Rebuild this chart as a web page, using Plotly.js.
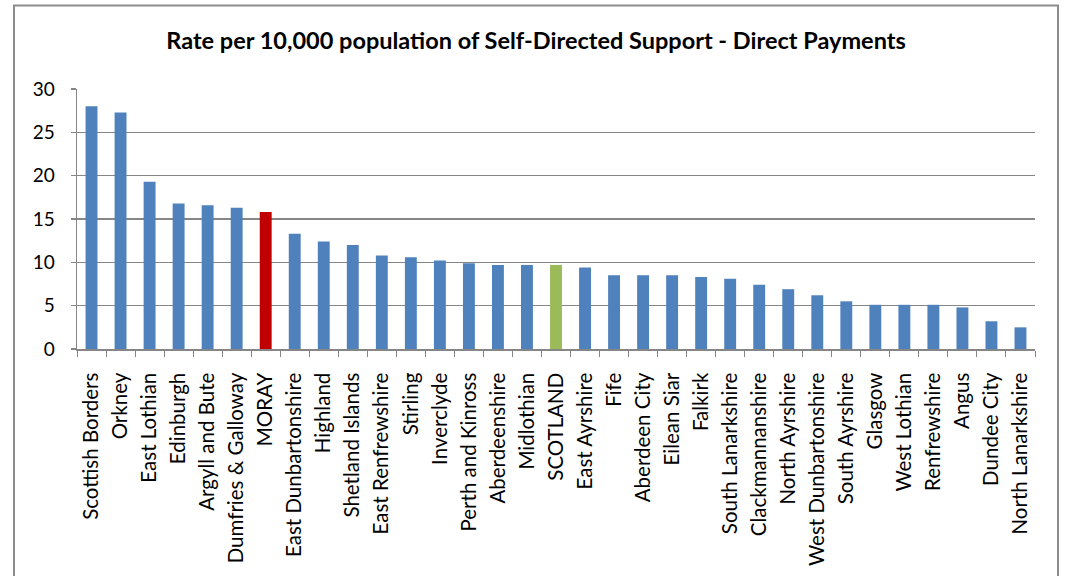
<!DOCTYPE html>
<html>
<head>
<meta charset="utf-8">
<script src="https://cdn.plot.ly/plotly-3.0.1.min.js"></script>
<style>html,body{margin:0;padding:0;background:#fff;}#chart{width:1065px;height:576px;}</style>
</head>
<body>
<div id="chart"></div>
<script>
const categories = ["Scottish Borders","Orkney","East Lothian","Edinburgh","Argyll and Bute","Dumfries & Galloway","MORAY","East Dunbartonshire","Highland","Shetland Islands","East Renfrewshire","Stirling","Inverclyde","Perth and Kinross","Aberdeenshire","Midlothian","SCOTLAND","East Ayrshire","Fife","Aberdeen City","Eilean Siar","Falkirk","South Lanarkshire","Clackmannanshire","North Ayrshire","West Dunbartonshire","South Ayrshire","Glasgow","West Lothian","Renfrewshire","Angus","Dundee City","North Lanarkshire"];
const rates = [28.0,27.3,19.3,16.8,16.6,16.3,15.8,13.3,12.4,12.0,10.8,10.6,10.2,9.9,9.7,9.7,9.7,9.4,8.5,8.5,8.5,8.3,8.1,7.4,6.9,6.2,5.5,5.1,5.1,5.1,4.8,3.2,2.5];
const yTicks = [0,5,10,15,20,25,30];
const titleText = "Rate per 10,000 population of Self-Directed Support - Direct Payments";

const barColors = categories.map(c => c === "MORAY" ? "#C00000" : (c === "SCOTLAND" ? "#9BBB59" : "#4F81BD"));

const font = "Lato, 'Open Sans', sans-serif";
const L = 77, R = 1035, T = 88.7, B = 349.3, W = 1065, H = 576;
const pw = R - L, ph = B - T;
const px = v => (v - L) / pw;
const py = v => (B - v) / ph;

Plotly.newPlot("chart", [{
  type: "bar",
  x: categories,
  y: rates,
  marker: {color: barColors, line: {width: 0}},
  hoverinfo: "x+y"
}], {
  width: W, height: H,
  margin: {l: L, r: W - R, t: T, b: H - B, pad: 0},
  paper_bgcolor: "#fff", plot_bgcolor: "#fff",
  bargap: 0.59,
  showlegend: false,
  title: {text: "<b>" + titleText + "</b>", font: {family: font, size: 23.5, color: "#000"}, x: px(536), xref: "paper", xanchor: "center", y: 1 - 41 / H, yanchor: "middle"},
  xaxis: {
    type: "category",
    tickangle: -90,
    tickfont: {family: font, size: 20.5, color: "#000"},
    ticks: "outside", ticklen: 6, tickcolor: "#868686", tickwidth: 1,
    tickson: "boundaries",
    showline: true, linecolor: "#868686", linewidth: 1.5,
    showgrid: false,
    ticklabelstandoff: 14,
    fixedrange: true
  },
  yaxis: {
    range: [0, 30],
    tickvals: yTicks,
    ticktext: yTicks.map(String),
    tickfont: {family: font, size: 19, color: "#000"},
    ticks: "outside", ticklen: 5, tickcolor: "#868686", tickwidth: 1.5,
    showline: true, linecolor: "#868686", linewidth: 1.5,
    showgrid: true, gridcolor: "#868686", gridwidth: 1.5,
    zeroline: false,
    ticklabelstandoff: 12,
    fixedrange: true
  },
  shapes: [{
    type: "rect", xref: "paper", yref: "paper",
    x0: px(14), x1: px(1058), y0: py(620), y1: py(5),
    line: {color: "#8c8c8c", width: 2}, fillcolor: "rgba(0,0,0,0)", layer: "below"
  }]
}, {displayModeBar: false, staticPlot: true});
</script>
</body>
</html>
